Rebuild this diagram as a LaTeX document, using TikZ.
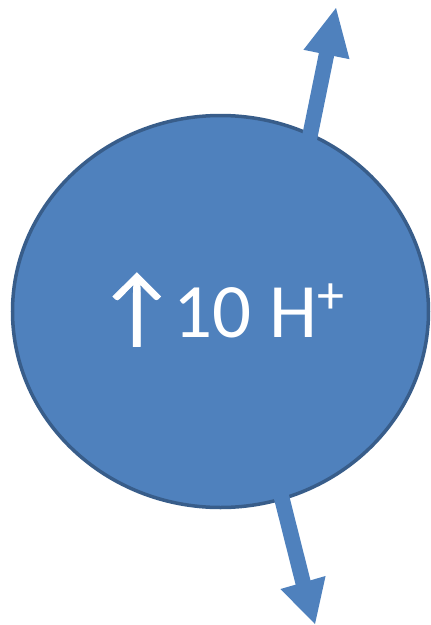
\documentclass[tikz,border=0pt]{standalone}
\usepackage{fontspec}
\setmainfont{Carlito}
\newfontfamily\arrowfont{Carlito}[FakeBold=1]
\usetikzlibrary{calc,shapes.geometric}
\definecolor{cellfill}{HTML}{4F81BD}
\definecolor{celledge}{HTML}{385D8A}
\tikzset{
  cell/.style={ellipse, fill=cellfill, draw=celledge, line width=3.5pt, inner sep=0pt,
    minimum width=416pt, minimum height=392pt},
  shaft/.style={draw=cellfill, line width=15.5pt, line cap=butt},
  headfill/.style={fill=cellfill},
  labeltext/.style={text=white, font=\fontsize{77}{77}\selectfont, inner sep=0pt}
}
\begin{document}
\begin{tikzpicture}[x=1pt,y=-1pt]
\useasboundingbox (0,0) rectangle (431,625);
\node[cell] (cell) at (220.5,311.5) {};
\node[labeltext, anchor=base] (lbl) at (220.5,337) {{\arrowfont\fontsize{88}{88}\selectfont ↑}\hspace{-3pt}10 H\raisebox{24pt}{\fontsize{54}{54}\selectfont +}};
% upward arrow
\coordinate (upS) at (304,165);
\coordinate (upH) at (326.5,54.5);
\coordinate (upT) at (336,8);
\draw[shaft] (upS) -- ($(upH)!2pt!(upT)$);
\fill[headfill] ($(upH)!23.5pt!90:(upT)$) -- (upT) -- ($(upH)!23.5pt!-90:(upT)$) -- cycle;
% downward arrow
\coordinate (dnS) at (280.5,493);
\coordinate (dnH) at (303,582.5);
\coordinate (dnT) at (315,624);
\draw[shaft] (dnS) -- ($(dnH)!2pt!(dnT)$);
\fill[headfill] ($(dnH)!23.5pt!90:(dnT)$) -- (dnT) -- ($(dnH)!23.5pt!-90:(dnT)$) -- cycle;
\end{tikzpicture}
\end{document}
